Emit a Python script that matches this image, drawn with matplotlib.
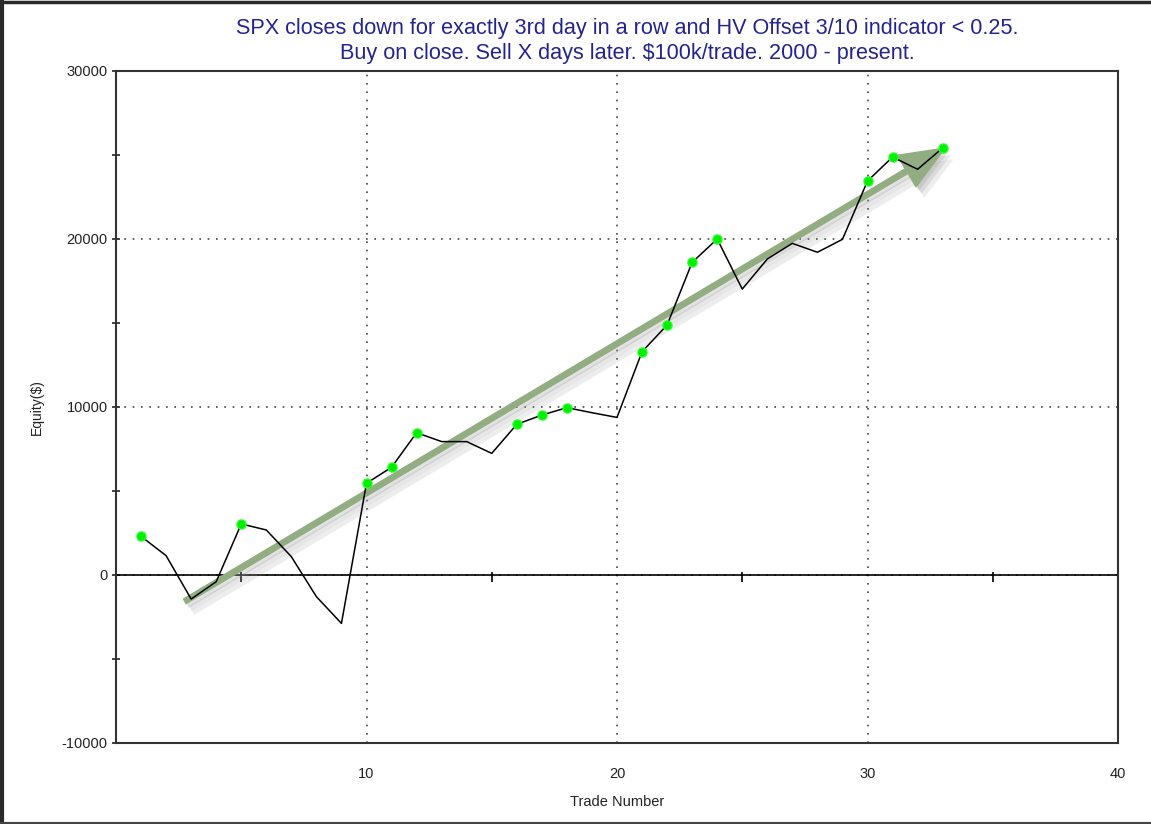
import numpy as np
import pandas as pd
import matplotlib
matplotlib.use("Agg")
import matplotlib.pyplot as plt
from matplotlib.patches import FancyArrowPatch
from matplotlib.lines import Line2D
import matplotlib.patheffects as pe

plt.rcParams['font.family'] = ['Liberation Sans', 'DejaVu Sans']
plt.rcParams['axes.unicode_minus'] = False

# equity curve
trade_no = list(range(1, 34))
equity = [2300, 1150, -1430, -400, 3040, 2680, 1090, -1290, -2880, 5460,
          6410, 8470, 7940, 7940, 7240, 8970, 9520, 9960, 9660, 9380,
          13290, 14880, 18610, 20000, 17020, 18810, 19740, 19210, 19980, 23450,
          24880, 24150, 25420]
trend_start = (2.65, -1650)
trend_end = (33.2, 25500)

title_txt = ("SPX closes down for exactly 3rd day in a row and HV Offset 3/10 indicator < 0.25.\n"
             "Buy on close. Sell X days later. $100k/trade. 2000 - present.")
xticks = [10, 20, 30, 40]
yticks = [-10000, 0, 10000, 20000, 30000]
zero_ticks = [5, 15, 25, 35]

df = pd.DataFrame({'trade': trade_no, 'equity': equity})
df['new_high'] = df.equity >= df.equity.cummax()

fig = plt.figure(figsize=(11.51, 8.24), dpi=100)
ax = fig.add_axes([116 / 1151, 1 - 743 / 824, (1118 - 116) / 1151, (743 - 71) / 824])

ax.set_xlim(0, 40)
ax.set_ylim(-10000, 30000)

# dotted grid
ax.set_xticks(xticks)
ax.set_yticks(yticks)
ax.set_yticks([-5000, 5000, 15000, 25000], minor=True)
ax.grid(True, which='major', color='#444444', linestyle=(0, (1, 4)), linewidth=1.2)
ax.axhline(0, color='black', linewidth=1.2, zorder=2)
ax.vlines(zero_ticks, -400, 150, color='black', linewidth=1.2, zorder=2)

# trend arrow with soft shadow
arr = FancyArrowPatch(trend_start, trend_end,
                      arrowstyle='simple,head_length=2.7,head_width=2.2,tail_width=0.32',
                      mutation_scale=12, color='#93ad83', zorder=3,
                      path_effects=[pe.SimplePatchShadow(offset=(6, -8), shadow_rgbFace='#a0a0a0', alpha=0.18),
                                    pe.SimplePatchShadow(offset=(4, -5), shadow_rgbFace='#a0a0a0', alpha=0.25),
                                    pe.SimplePatchShadow(offset=(2, -3), shadow_rgbFace='#a0a0a0', alpha=0.3),
                                    pe.Normal()])
ax.add_patch(arr)

ax.plot(df.trade, df.equity, color='black', linewidth=1.1, zorder=4)
hi = df[df.new_high]
ax.plot(hi.trade, hi.equity, linestyle='none', marker='o', markersize=6.5,
        color='#00ee00', markeredgecolor='#22ff22', zorder=5)

for s in ax.spines.values():
    s.set_color('#333333')
    s.set_linewidth(1.5)

ax.tick_params(axis='x', which='major', length=0, pad=17, labelsize=10.5, colors='#222222')
ax.tick_params(axis='y', which='both', direction='inout', length=6, width=1.2, pad=3,
               labelsize=10.5, colors='#222222')
ax.set_xlabel('Trade Number', fontsize=10.5, labelpad=10, color='#222222')
ax.set_ylabel('Equity($)', fontsize=10, labelpad=-2, color='#222222')
ax.yaxis.set_label_coords(-72 / 1002, 0.5)

fig.text(627 / 1151, 1 - 41 / 824, title_txt, ha='center', va='center', fontsize=15.6,
         color='#24248f', linespacing=1.3)

# dark frame of the screenshot
fig.add_artist(Line2D([0, 1], [1 - 1.5 / 824, 1 - 1.5 / 824], transform=fig.transFigure,
                      color='#2a2a2a', linewidth=2.5))
fig.add_artist(Line2D([2 / 1151, 2 / 1151], [0, 1], transform=fig.transFigure,
                      color='#2a2a2a', linewidth=3))
fig.add_artist(Line2D([0, 1], [1 / 824, 1 / 824], transform=fig.transFigure,
                      color='#444444', linewidth=1.5))

fig.savefig('out.png', dpi=100)
